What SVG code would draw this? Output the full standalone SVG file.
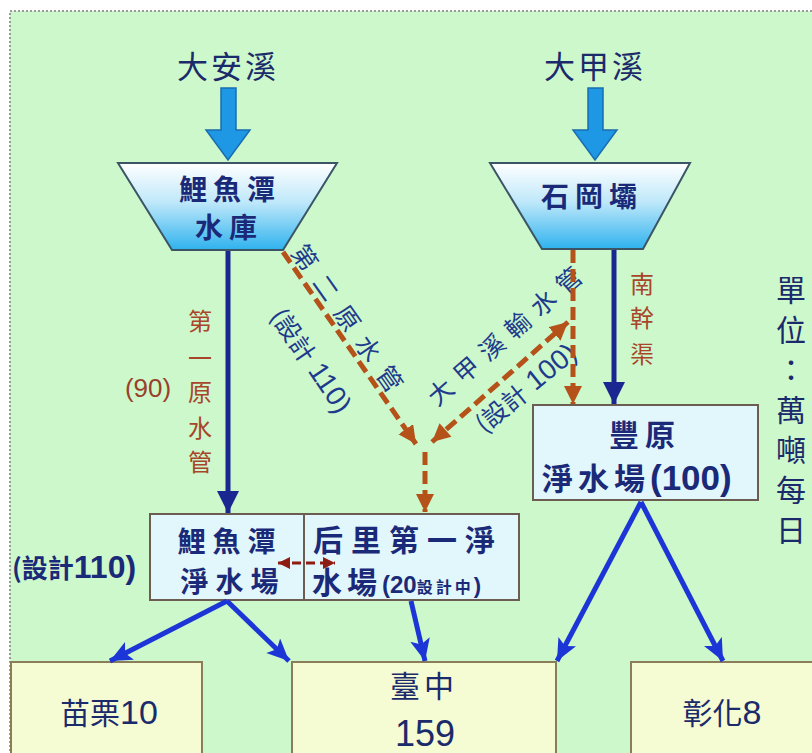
<svg xmlns="http://www.w3.org/2000/svg" width="812" height="753" viewBox="0 0 812 753">
<defs>
<linearGradient id="trap" x1="0" y1="0" x2="0" y2="1">
<stop offset="0" stop-color="#ffffff"/>
<stop offset="0.45" stop-color="#bfe8fa"/>
<stop offset="1" stop-color="#2fb2ee"/>
</linearGradient>
<marker id="navy" markerUnits="userSpaceOnUse" markerWidth="22" markerHeight="26" refX="22" refY="11" orient="auto">
<path d="M0,0 L22,11 L0,22 Z" fill="#1a2790"/>
</marker>
<marker id="blue" markerUnits="userSpaceOnUse" markerWidth="24" markerHeight="22" refX="22" refY="10" orient="auto">
<path d="M0,0 L22,10 L0,20 L5,10 Z" fill="#1c35d6"/>
</marker>
<marker id="brown" markerUnits="userSpaceOnUse" markerWidth="20" markerHeight="20" refX="18" refY="9" orient="auto">
<path d="M0,0 L18,9 L0,18 Z" fill="#b4521a"/>
</marker>
<marker id="brownS" markerUnits="userSpaceOnUse" markerWidth="20" markerHeight="20" refX="0" refY="9" orient="auto">
<path d="M18,0 L0,9 L18,18 Z" fill="#b4521a"/>
</marker>
<marker id="red" markerUnits="userSpaceOnUse" markerWidth="14" markerHeight="14" refX="12" refY="6" orient="auto">
<path d="M0,0 L12,6 L0,12 Z" fill="#8e1c12"/>
</marker>
<marker id="redS" markerUnits="userSpaceOnUse" markerWidth="14" markerHeight="14" refX="0" refY="6" orient="auto">
<path d="M12,0 L0,6 L12,12 Z" fill="#8e1c12"/>
</marker>
</defs>
<style>
.cjk{font-family:"Noto Sans CJK TC","Noto Sans CJK SC",sans-serif;}
.name{font-family:"Noto Sans CJK TC",sans-serif;font-weight:bold;fill:#1b2a78;}
.unit{font-family:"Noto Sans CJK TC",sans-serif;font-weight:normal;fill:#1b2a6a;font-size:30px;}
.num{font-family:"Liberation Sans",Arial,sans-serif;font-weight:bold;}
.lab{font-family:"Noto Sans CJK TC",sans-serif;fill:#a8452a;font-size:24px;}
.diag{font-family:"Noto Sans CJK TC",sans-serif;fill:#1d3a8c;font-size:25px;}
.trap{fill:url(#trap);stroke:#3b5566;stroke-width:2;}
.plant{fill:#e2f7fb;stroke:#6b5d52;stroke-width:2;}
.city{fill:#f5fbd2;stroke:#8a7d58;stroke-width:2;}
.big{fill:#1e97e4;stroke:#1a6eb0;stroke-width:1.5;}
.navy{stroke:#1a2790;stroke-width:5;fill:none;marker-end:url(#navy);}
.blue{stroke:#1c35d6;stroke-width:5;fill:none;marker-end:url(#blue);}
.dash{stroke:#b4521a;stroke-width:5;fill:none;stroke-dasharray:13 6;}
</style>
<rect x="0" y="0" width="812" height="753" fill="#ffffff"/>
<rect x="10" y="11" width="812" height="750" fill="#cdf8cb" stroke="#9a9a9a" stroke-width="2" stroke-dasharray="2 2"/>

<g id="river-daan">
<text x="228" y="78" text-anchor="middle" class="cjk" font-size="31" fill="#1b2a6a" letter-spacing="3">大安溪</text>
<path class="big" d="M221,88 L236,88 L236,130 L250,130 L228,160 L206,130 L221,130 Z"/>
</g>
<g id="river-dajia">
<text x="595" y="78" text-anchor="middle" class="cjk" font-size="31" fill="#1b2a6a" letter-spacing="3">大甲溪</text>
<path class="big" d="M588,88 L603,88 L603,130 L617,130 L595,160 L573,130 L588,130 Z"/>
</g>

<g id="reservoir-liyutan">
<polygon class="trap" points="118,163 337,163 283,250 172,250"/>
<text x="230" y="200" text-anchor="middle" class="name" font-size="28" letter-spacing="6">鯉魚潭</text>
<text x="229" y="238" text-anchor="middle" class="name" font-size="28" letter-spacing="6">水庫</text>
</g>
<g id="dam-shigang">
<polygon class="trap" points="490,163 690,163 643,249 542,249"/>
<text x="592" y="207" text-anchor="middle" class="name" font-size="28" letter-spacing="6">石岡壩</text>
</g>

<g id="label-first-pipe">
<text class="lab" x="200" y="330" text-anchor="middle">第</text>
<text class="lab" x="200" y="367" text-anchor="middle">一</text>
<text class="lab" x="200" y="401" text-anchor="middle">原</text>
<text class="lab" x="200" y="437" text-anchor="middle">水</text>
<text class="lab" x="200" y="471" text-anchor="middle">管</text>
<text x="148" y="397" text-anchor="middle" font-family="Liberation Sans, Arial, sans-serif" font-size="26" fill="#9a3f2c">(90)</text>
</g>
<g id="label-nangan">
<text class="lab" x="642" y="293" text-anchor="middle">南</text>
<text class="lab" x="642" y="327" text-anchor="middle">幹</text>
<text class="lab" x="642" y="363" text-anchor="middle">渠</text>
</g>
<g id="label-second-pipe">
<text class="diag" transform="translate(352,322) rotate(55)" text-anchor="middle" dominant-baseline="central" letter-spacing="12">第二原水管</text>
<text class="diag" transform="translate(312,360) rotate(56)" text-anchor="middle" dominant-baseline="central">(設計<tspan font-family="Liberation Sans, Arial, sans-serif" font-size="28"> 110)</tspan></text>
</g>
<g id="label-dajia-pipe">
<text class="diag" transform="translate(507,332) rotate(-41)" text-anchor="middle" dominant-baseline="central" letter-spacing="9">大甲溪輸水管</text>
<text class="diag" transform="translate(525,387) rotate(-39)" text-anchor="middle" dominant-baseline="central">(設計<tspan font-family="Liberation Sans, Arial, sans-serif" font-size="28"> 100)</tspan></text>
</g>

<g id="plant-liyutan">
<rect class="plant" x="150" y="514" width="154" height="86"/>
<text x="230" y="552" text-anchor="middle" class="name" font-size="28" letter-spacing="7">鯉魚潭</text>
<text x="233" y="592" text-anchor="middle" class="name" font-size="28" letter-spacing="7">淨水場</text>
<text x="12" y="578" class="name" font-size="26">(設計<tspan class="num" font-size="32" fill="#1b2a78">110)</tspan></text>
</g>
<g id="plant-houli">
<rect class="plant" x="304" y="514" width="215" height="86"/>
<text x="313" y="551" class="name" font-size="30" letter-spacing="8">后里第一淨</text>
<text x="312" y="593" class="name" font-size="30" letter-spacing="5">水場<tspan class="num" font-size="24" letter-spacing="0">(20</tspan><tspan font-size="16" letter-spacing="3">設計中</tspan><tspan class="num" font-size="22" font-weight="normal" letter-spacing="0">)</tspan></text>
</g>
<g id="plant-fengyuan">
<rect class="plant" x="533" y="405" width="225" height="95"/>
<text x="645" y="446" text-anchor="middle" class="name" font-size="30" letter-spacing="6">豐原</text>
<text x="542" y="490" class="name" font-size="31" letter-spacing="5">淨水場<tspan class="num" font-size="35" letter-spacing="0">(100)</tspan></text>
</g>

<g id="unit">
<text class="unit" x="791" y="275" writing-mode="vertical-rl" letter-spacing="10">單位：萬噸每日</text>
</g>

<g id="city-miaoli">
<rect class="city" x="11" y="662" width="191" height="100"/>
<text x="109" y="724" text-anchor="middle" class="cjk" font-size="30" fill="#1b2a6a">苗栗<tspan font-family="Liberation Sans, Arial, sans-serif" font-size="34">10</tspan></text>
</g>
<g id="city-taichung">
<rect class="city" x="292" y="662" width="264" height="100"/>
<text x="424" y="697" text-anchor="middle" class="cjk" font-size="30" fill="#1b2a6a" letter-spacing="4">臺中</text>
<text x="425" y="746" text-anchor="middle" font-family="Liberation Sans, Arial, sans-serif" font-size="36" fill="#1b2a6a">159</text>
</g>
<g id="city-changhua">
<rect class="city" x="631" y="662" width="190" height="100"/>
<text x="722" y="724" text-anchor="middle" class="cjk" font-size="30" fill="#1b2a6a">彰化<tspan font-family="Liberation Sans, Arial, sans-serif" font-size="34">8</tspan></text>
</g>

<g id="connectors">
<line class="navy" x1="228" y1="251" x2="228" y2="513"/>
<line class="navy" x1="614" y1="250" x2="614" y2="404"/>
<line class="dash" x1="283" y1="252" x2="416" y2="444" marker-end="url(#brown)"/>
<line class="dash" x1="425" y1="452" x2="425" y2="512" marker-end="url(#brown)"/>
<line class="dash" x1="432" y1="442" x2="568" y2="322" marker-start="url(#brownS)" marker-end="url(#brown)"/>
<line class="dash" x1="573" y1="250" x2="573" y2="404" marker-end="url(#brown)"/>
<line x1="278" y1="563" x2="335" y2="563" stroke="#8e1c12" stroke-width="3" stroke-dasharray="9 5" marker-start="url(#redS)" marker-end="url(#red)"/>
<line class="blue" x1="227" y1="601" x2="110" y2="661"/>
<line class="blue" x1="227" y1="601" x2="289" y2="661"/>
<line class="blue" x1="411" y1="601" x2="425" y2="661"/>
<line class="blue" x1="641" y1="502" x2="557" y2="661"/>
<line class="blue" x1="641" y1="502" x2="723" y2="661"/>
</g>
</svg>
